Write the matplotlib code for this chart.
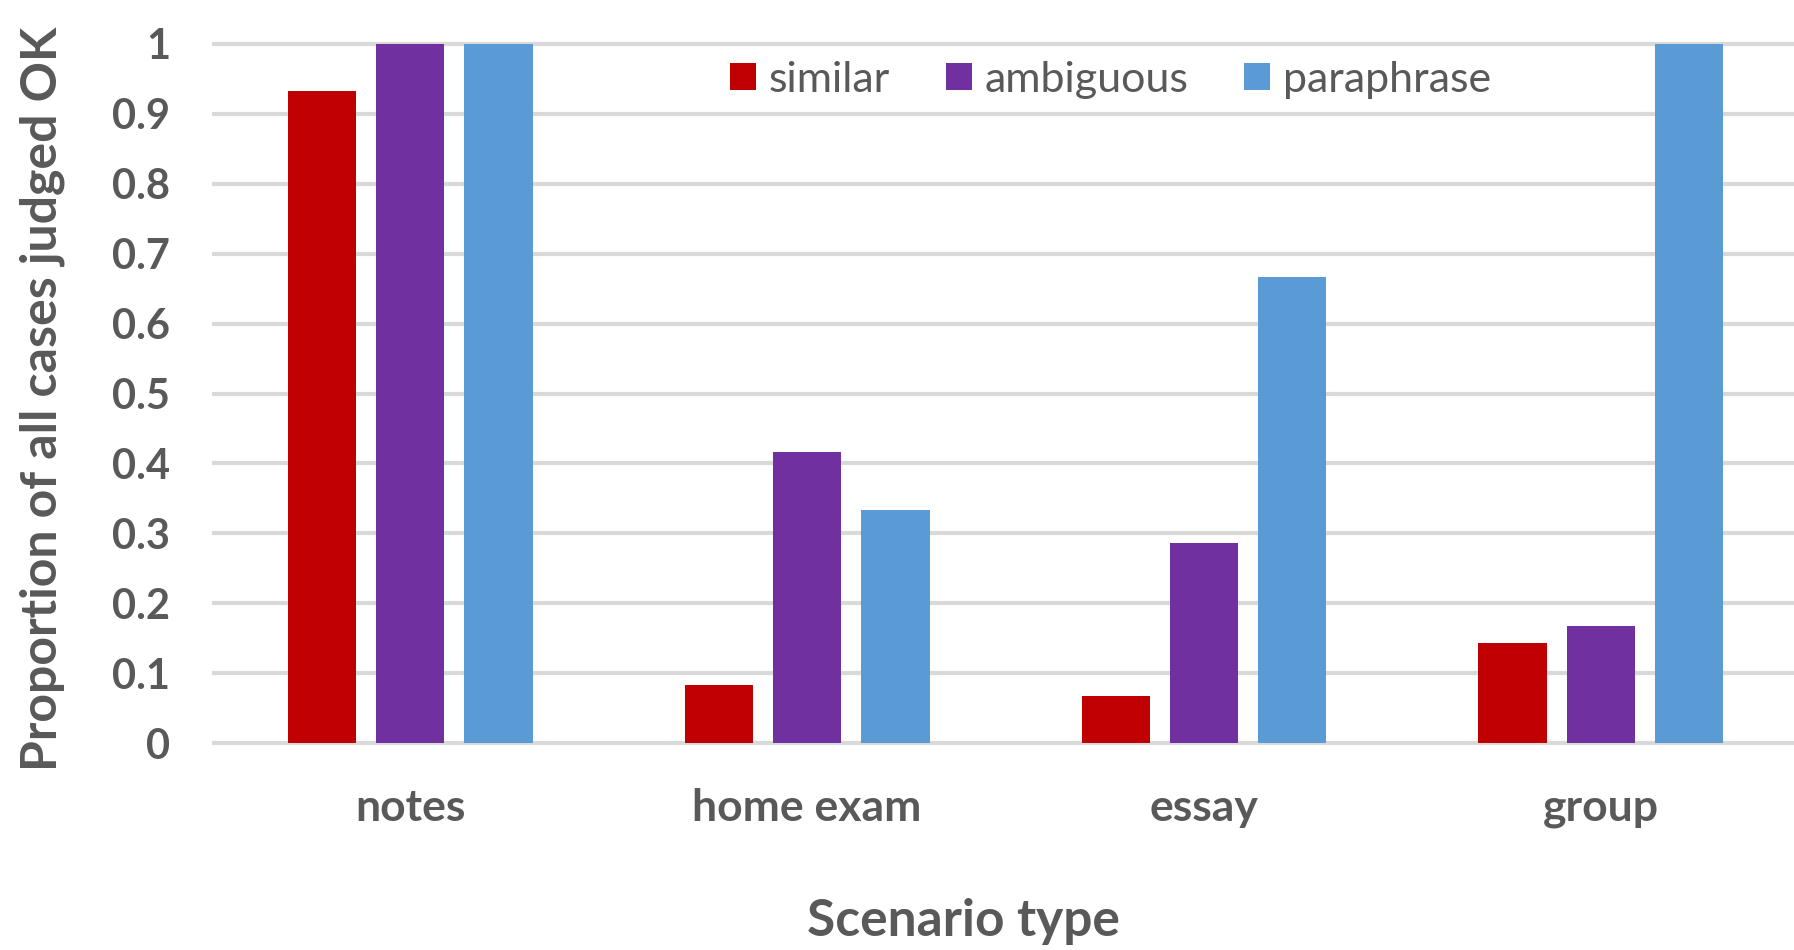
import numpy as np
import matplotlib
matplotlib.use("Agg")
import matplotlib.pyplot as plt
from matplotlib.patches import Patch

# proportion of cases judged OK per scenario type
scenarios = ["notes", "home exam", "essay", "group"]
similar = [0.933, 0.083, 0.067, 0.143]
ambiguous = [1.0, 0.417, 0.286, 0.167]
paraphrase = [1.0, 0.333, 0.667, 1.0]
series_names = ["similar", "ambiguous", "paraphrase"]
y_ticks = [0, 0.1, 0.2, 0.3, 0.4, 0.5, 0.6, 0.7, 0.8, 0.9, 1]

colors = ["#C00000", "#7030A0", "#5B9BD5"]
text_col = "#595959"
font = ["Lato", "DejaVu Sans"]

plt.rcParams["font.family"] = font

fig = plt.figure(figsize=(17.94, 9.5), dpi=100)
ax = fig.add_axes([0.118, 0.2147, 0.885, 0.7421])

x = np.arange(len(scenarios))
width = 0.173
step = 0.222
for i, vals in enumerate([similar, ambiguous, paraphrase]):
    ax.bar(x + (i - 1) * step, vals, width, color=colors[i], zorder=3)

ax.set_xlim(-0.5, len(scenarios) - 0.5)
ax.set_ylim(-0.004, 1.004)
ax.set_yticks(y_ticks)
ax.set_yticklabels(["%g" % t for t in y_ticks])
ax.set_xticks(x)
ax.set_xticklabels(scenarios)

ax.grid(axis="y", color="#D9D9D9", linewidth=3, zorder=0)
ax.set_axisbelow(True)
for s in ax.spines.values():
    s.set_visible(False)
ax.tick_params(axis="both", length=0, labelcolor=text_col)
ax.tick_params(axis="y", pad=30, labelsize=30)
ax.tick_params(axis="x", pad=30, labelsize=32)
for lbl in ax.get_xticklabels() + ax.get_yticklabels():
    lbl.set_fontweight("bold")

fig.text(0.0233, 0.58, "Proportion of all cases judged OK", rotation=90,
         ha="center", va="center", fontsize=36, fontweight="bold", color=text_col)
fig.text(0.537, 0.0305, "Scenario type", ha="center", va="center",
         fontsize=37, fontweight="bold", color=text_col)

handles = [Patch(facecolor=c) for c in colors]
leg = fig.legend(handles, series_names, loc="center", bbox_to_anchor=(0.619, 0.916),
                 ncol=3, frameon=False, fontsize=31, handlelength=0.6, handleheight=0.6,
                 handletextpad=0.3, columnspacing=1.3, labelcolor=text_col)

fig.savefig("out.png", dpi=100, facecolor="white")
